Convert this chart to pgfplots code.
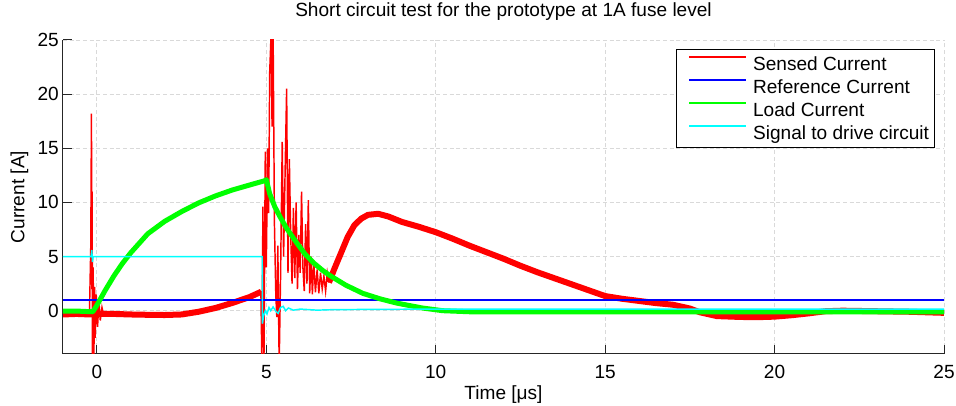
\documentclass[border=0pt]{standalone}
\usepackage{fontspec}
\setmainfont{Liberation Sans}
\usepackage{pgfplots}
\pgfplotsset{compat=1.18}
\definecolor{cRed}{RGB}{255,0,0}
\definecolor{cBlue}{RGB}{0,0,255}
\definecolor{cGreen}{RGB}{0,255,0}
\definecolor{cCyan}{RGB}{0,255,255}
\begin{document}
\begin{tikzpicture}
\begin{axis}[
  scale only axis, width=660.75pt, height=235.5pt,
  xmin=-1, xmax=25, ymin=-4, ymax=25,
  xtick={0,5,...,25}, ytick={0,5,...,25},
  axis x line*=bottom, axis y line*=left,
  axis line style={black!85, line width=0.75pt},
  tick align=inside, major tick length=6.75pt,
  tick style={black!85, line width=0.75pt},
  grid=major, grid style={black!15, dash pattern=on 3pt off 2pt, line width=0.6pt},
  font=\fontsize{14.3}{17}\selectfont,
  /pgf/number format/assume math mode=true,
  yticklabel style={inner sep=0pt, anchor=east, xshift=-3pt},
  xticklabel style={inner sep=0pt, anchor=base, yshift=-18.75pt},
  title={Short circuit test for the prototype at 1A fuse level},
  title style={at={(axis description cs:0.5,1.0478)}, anchor=base, inner sep=0pt},
  xlabel={Time [μs]},
  xlabel style={at={(axis description cs:0.5,-0.1465)}, anchor=base, inner sep=0pt},
  ylabel={Current [A]},
  ylabel style={at={(axis description cs:-0.0493,0.5)}, anchor=center, inner sep=0pt},
  legend style={at={(axis description cs:0.9898,0.9713)}, anchor=north east, draw=black, fill=white,
    font=\fontsize{14.3}{17}\selectfont, inner xsep=4.3pt, inner ysep=4.75pt, row sep=5pt,
    nodes={inner sep=0pt, text height=11pt, text depth=1.25pt},
    /tikz/every odd column/.append style={column sep=4.5pt}},
  legend cell align=left,
  legend image code/.code={\path (0pt,0pt); \draw[#1] (4.7pt,5pt) -- (47.45pt,5pt);},
  unbounded coords=jump,
]
\addlegendimage{draw=cRed, line width=1.1pt}
\addlegendentry{Sensed Current}
\addlegendimage{draw=cBlue, line width=1.1pt}
\addlegendentry{Reference Current}
\addlegendimage{draw=cGreen, line width=1.1pt}
\addlegendentry{Load Current}
\addlegendimage{draw=cCyan, line width=1.1pt}
\addlegendentry{Signal to drive circuit}
% Sensed current (noise band)
\addplot[draw=cRed, line width=4.5pt, line join=round, forget plot] coordinates {
(-1,-0.35) (-0.6,-0.3) (-0.2,-0.35) (0.1,-0.3) (0.5,-0.3) (1,-0.35) (1.5,-0.38) (2,-0.4) (2.5,-0.35) (3,-0.1) (3.5,0.25) (4,0.72) (4.5,1.25) (4.85,1.75)
(4.87,nan)
(6.85,2.6) (7.0,3.8) (7.2,5.3) (7.4,6.8) (7.6,7.9) (7.8,8.5) (8.0,8.85) (8.3,8.95) (8.6,8.7) (9.0,8.2) (9.5,7.75) (10.0,7.25) (10.5,6.65) (11,6.0) (11.5,5.4) (12,4.8) (12.5,4.15) (13,3.55) (13.5,3.0) (14,2.45) (14.5,1.9) (15,1.35) (15.5,1.1) (16,0.9) (16.5,0.7) (17,0.55) (17.5,0.2) (17.8,-0.15) (18.3,-0.5) (19,-0.58) (19.5,-0.6) (20,-0.55) (20.5,-0.42) (21,-0.25) (21.5,-0.05) (22,0.0) (23,-0.05) (24,-0.1) (25,-0.2)
};
% Sensed current (spikes)
\addplot[draw=cRed, line width=1.1pt, forget plot] coordinates {
(-0.22,-0.35) (-0.18,6) (-0.16,18.2) (-0.15,2) (-0.14,11) (-0.13,-5) (-0.11,4) (-0.09,-5) (-0.07,2.2) (-0.05,-2.5) (-0.02,1.5) (0.02,-1.5) (0.06,0.9) (0.1,-0.9) (0.15,0.3) (0.2,-0.4)
(0.22,nan)
(4.84,1.8) (4.87,-5) (4.90,9.6) (4.93,-5) (4.97,14.7) (5.0,4) (5.04,15) (5.07,9) (5.10,22) (5.14,25.5) (5.17,17) (5.20,26) (5.24,8) (5.28,1.5) (5.31,-0.6) (5.34,6) (5.38,-5) (5.42,3) (5.47,15.6) (5.51,5) (5.55,12) (5.60,20.5) (5.64,3.5) (5.68,14) (5.72,7) (5.76,2.5) (5.80,9.5) (5.84,3) (5.88,10) (5.92,2) (5.96,7) (6.0,3.5) (6.04,11) (6.08,4) (6.12,1.8) (6.16,8) (6.2,2.5) (6.24,10.2) (6.28,1.6) (6.32,5) (6.36,1.5) (6.40,4.5) (6.45,1.7) (6.5,3.8) (6.55,1.6) (6.6,3.5) (6.65,2) (6.7,3.2) (6.75,1.8) (6.8,3.5) (6.85,2.6)
};
% Reference current
\addplot[draw=cBlue, line width=1.1pt, forget plot] coordinates {(-1,1) (25,1)};
% Load current
\addplot[draw=cGreen, line width=3.75pt, line join=round, forget plot] coordinates {
(-1,-0.05) (-0.5,-0.05) (-0.12,-0.1) (0,0.5) (0.25,1.9) (0.5,3.2) (0.75,4.35) (1,5.35) (1.5,7.1) (2,8.25) (2.5,9.15) (3,9.95) (3.5,10.6) (4,11.15) (4.5,11.6) (4.95,12.0) (5.0,12.1) (5.1,10.8) (5.25,9.6) (5.4,8.7) (5.6,7.6) (5.9,6.25) (6.15,5.2) (6.4,4.4) (6.65,3.75) (6.9,3.2) (7.35,2.35) (7.85,1.6) (8.35,1.1) (8.85,0.7) (9.6,0.25) (10.2,0.0) (11,-0.1) (25,-0.1)
};
% Signal to drive circuit
\addplot[draw=cCyan, line width=1.1pt, forget plot] coordinates {
(-1,5) (-0.17,5) (-0.15,5.6) (-0.13,4.5) (-0.11,5) (4.88,5) (4.885,-1.2) (4.92,-0.5) (4.97,0.0) (5.02,-0.3) (5.08,0.3) (5.13,0.0) (5.2,0.35) (5.28,-0.05) (5.35,-0.25) (5.42,0.3) (5.5,0.4) (5.57,0.0) (5.65,0.25) (5.8,0.05) (6.0,0.15) (6.5,0.05) (7,0.1) (10,0.15) (25,0.15)
};
\end{axis}
\pgfresetboundingbox
\path[use as bounding box] ([xshift=-47.25pt,yshift=-39pt]current axis.south west) rectangle ([xshift=9pt,yshift=30pt]current axis.north east);
\end{tikzpicture}
\end{document}
